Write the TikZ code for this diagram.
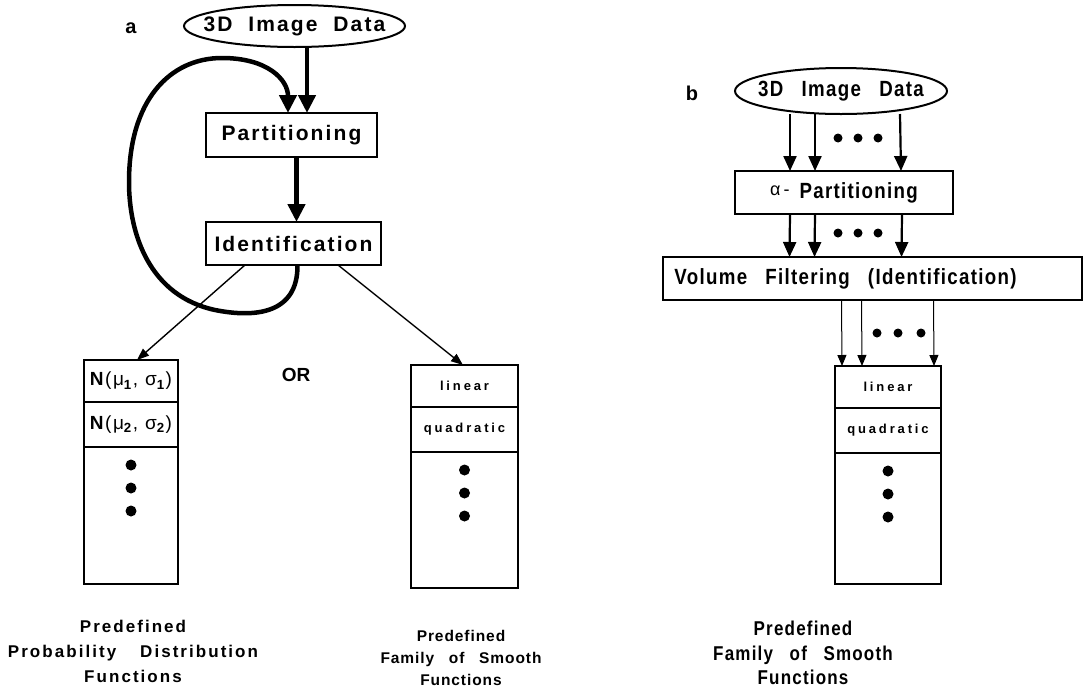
\documentclass[tikz,border=0pt]{standalone}
\usepackage{fontspec}
\setmainfont{Liberation Sans}
\newfontfamily\lfont{Liberation Sans}
\newfontfamily\afont[LetterSpace=10,WordSpace=2,Ligatures=NoCommon]{Liberation Sans}
\newfontfamily\bfont[LetterSpace=6,WordSpace=2.8,FakeStretch=0.85,Ligatures=NoCommon]{Liberation Sans}
\newfontfamily\cfont[LetterSpace=22,Ligatures=NoCommon]{Liberation Sans}
\newfontfamily\capfont[LetterSpace=12,WordSpace=2.5,Ligatures=NoCommon]{Liberation Sans}
\newfontfamily\fnfont[LetterSpace=6,WordSpace=2.8,Ligatures=NoCommon]{Liberation Sans}
\newfontfamily\nfont[LetterSpace=8]{Liberation Sans}
\usetikzlibrary{calc, positioning, arrows.meta, shapes.geometric}

\begin{document}
\begin{tikzpicture}[x=1pt, y=-1pt,
    blob/.style={ellipse, draw, line width=2pt, inner ysep=0pt, outer sep=0pt},
    proc/.style={draw, line width=2pt, inner sep=0pt, outer sep=0pt},
    cell/.style={draw, line width=1.8pt, inner sep=0pt, outer sep=0pt},
    atext/.style={font=\afont\bfseries\fontsize{21}{25}\selectfont},
    btext/.style={font=\bfont\bfseries\fontsize{22}{26}\selectfont},
    ctext/.style={font=\cfont\bfseries\fontsize{13}{15}\selectfont},
    ntext/.style={font=\nfont\fontsize{19}{21}\selectfont},
    tag/.style={font=\lfont\bfseries\fontsize{20}{20}\selectfont},
    heavy/.style={line width=4.5pt, -{Triangle[length=18pt,width=17pt]}},
    medium/.style={line width=2.2pt, -{Triangle[length=15pt,width=13pt]}},
    light/.style={line width=1.4pt, -{Triangle[length=12pt,width=9pt]}},
    hair/.style={line width=1pt, -{Triangle[length=11pt,width=9pt]}},
  ]
  \useasboundingbox (0,0) rectangle (1086,694);

  % panel a
  \node[tag] (tagA) at (131,28) {a};
  \node[blob, atext, inner xsep=-16pt, minimum width=221pt, minimum height=42pt] (dataA) at (294.5,26) {3D Image Data};
  \node[proc, atext, minimum width=171pt, minimum height=44pt] (partA) at (291.5,135) {Partitioning};
  \node[proc, atext, minimum width=175pt, minimum height=43pt] (identA) at (293.5,243.5) {Identification};

  \draw[heavy] ([xshift=12.5pt]dataA.south) -- ([xshift=15.5pt]partA.north);
  \draw[heavy] ([xshift=5pt]partA.south) -- ([xshift=3pt]identA.north);
  \draw[heavy] ([xshift=4pt]identA.south)
    .. controls (298,314) and (255,318) .. (215,310)
    .. controls (150,296) and (129,235) .. (129,182)
    .. controls (129,100) and (170,58) .. (222,58)
    .. controls (268,58) and (288,80) .. ([xshift=-3.5pt]partA.north);

  % stacks of panel a
  \node[cell, ntext, minimum width=94pt, minimum height=42pt, anchor=north]
    (pdfA1) at (131,360) {\textbf{N}(μ\textsubscript{\textbf{1}}, σ\textsubscript{\textbf{1}})};
  \node[cell, ntext, minimum width=94pt, minimum height=45pt, below=0pt of pdfA1]
    (pdfA2) {\textbf{N}(μ\textsubscript{\textbf{2}}, σ\textsubscript{\textbf{2}})};
  \node[cell, minimum width=94pt, minimum height=137pt, below=0pt of pdfA2] (pdfA3) {};

  \node[cell, ctext, minimum width=107pt, minimum height=42pt, anchor=north] (fnA1) at (464.5,365) {linear};
  \node[cell, ctext, minimum width=107pt, minimum height=45pt, below=0pt of fnA1] (fnA2) {quadratic};
  \node[cell, minimum width=107pt, minimum height=136pt, below=0pt of fnA2] (fnA3) {};

  \draw[light] ([xshift=-48.5pt]identA.south) -- ([xshift=6pt]pdfA1.north);
  \draw[light] ([xshift=44.5pt]identA.south) -- ([xshift=-1.5pt]fnA1.north);

  \node[font=\lfont\bfseries\fontsize{19}{19}\selectfont] (orA) at (296,375) {OR};

  \node[font=\capfont\bfseries\fontsize{17}{25}\selectfont, align=center] (capA) at (133,651)
    {Predefined\\Probability\hspace{24pt}Distribution\\Functions};
  \node[font=\fnfont\bfseries\fontsize{15.5}{22}\selectfont, align=center] (capF) at (461,658)
    {Predefined\\Family of Smooth\\Functions};

  % panel b
  \node[tag] (tagB) at (692,93) {b};
  \node[blob, btext, inner xsep=-8.5pt, minimum width=212pt, minimum height=46pt] (dataB) at (841,91) {3D Image Data};
  \node[proc, btext, minimum width=218pt, minimum height=43pt] (alphaB) at (844,192.5)
    {\raisebox{3pt}{\lfont\mdseries\fontsize{18}{18}\selectfont α\,-}\hspace{10pt}Partitioning};
  \node[proc, btext, minimum width=419pt, minimum height=43pt] (volB) at (872.5,278.5)
    {Volume Filtering (Identification)\hspace{54pt}\mbox{}};

  \node[cell, ctext, minimum width=106pt, minimum height=42pt, anchor=north] (fnB1) at (888,366) {linear};
  \node[cell, ctext, minimum width=106pt, minimum height=45pt, below=0pt of fnB1] (fnB2) {quadratic};
  \node[cell, minimum width=106pt, minimum height=131pt, below=0pt of fnB2] (fnB3) {};

  \foreach \u/\v in {-51/-54, -26/-29, 59/57}
    \draw[medium] ([xshift=\u pt]dataB.south) -- ([xshift=\v pt]alphaB.north);
  \foreach \u/\v in {-54/-83, -29/-58, 58/29}
    \draw[medium] ([xshift=\u pt]alphaB.south) -- ([xshift=\v pt]volB.north);
  \foreach \u/\v in {-31/-46, -11/-26, 61/46}
    \draw[hair] ([xshift=\u pt]volB.south) -- ([xshift=\v pt]fnB1.north);

  \foreach \d in {-6,14,34} {
    \fill ($(alphaB.north)+(\d,-33)$) circle (4.5pt);
    \fill ($(alphaB.south)+(\d,19)$) circle (4.5pt);
  }
  \foreach \d in {-11,10,33}
    \fill ($(fnB1.north)+(\d,-33)$) circle (4.5pt);

  % dots inside the stacks
  \foreach \s in {pdfA3, fnA3, fnB3}
    \foreach \d in {18,41,64}
      \fill ($(\s.north)+(0,\d)$) circle (5.5pt);

  \node[font=\bfont\bfseries\fontsize{20}{24.5}\selectfont, align=center] (capB) at (803,653)
    {Predefined\\Family of Smooth\\Functions};
\end{tikzpicture}
\end{document}
